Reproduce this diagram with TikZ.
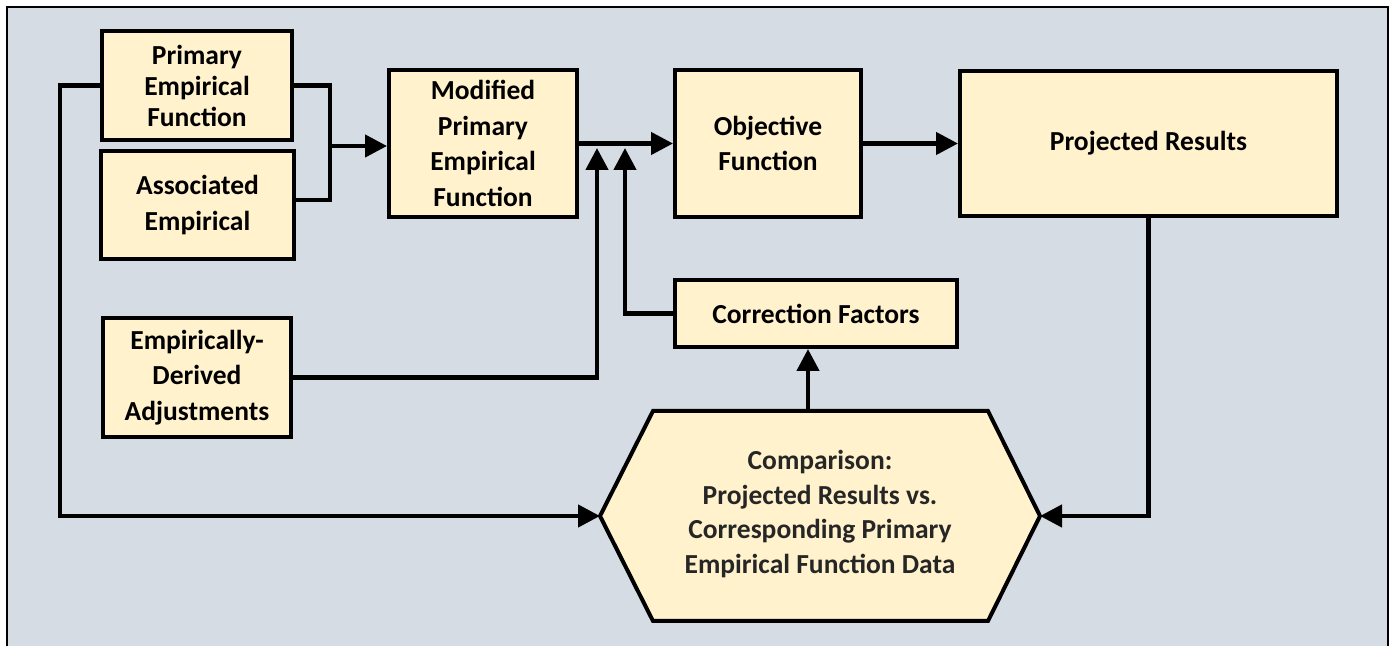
\documentclass[tikz,border=0pt]{standalone}
\usepackage{fontspec}
\setmainfont{Carlito}
\usetikzlibrary{arrows.meta}
\definecolor{boxfill}{HTML}{FFF2CC}
\definecolor{panel}{HTML}{D6DCE4}
\definecolor{hextext}{HTML}{262626}

\begin{document}
\begin{tikzpicture}[x=0.5pt,y=-0.5pt,
    blk/.style={draw,line width=2pt,fill=boxfill,align=center,inner sep=0pt,
      font=\bfseries\fontsize{13.75}{17.75}\selectfont},
    link/.style={line width=2.2pt},
    arr/.style={link,-{Triangle[length=11pt,width=11pt]}}]
    \useasboundingbox (0,0) rectangle (1394,646);
    \draw[fill=panel,line width=1.2pt] (7,7) rectangle (1388,660);

    % input boxes, left column
    \node[blk,minimum width=95pt,minimum height=54.5pt,
      font=\bfseries\fontsize{13.75}{15.5}\selectfont] (pef) at (197,85.5) {Primary\\Empirical\\Function};
    \node[blk,minimum width=96.5pt,minimum height=54pt] (aem) at (197.5,205) {Associated\\Empirical};
    \node[blk,minimum width=94pt,minimum height=59.5pt] (eda) at (197,377.5) {Empirically-\\Derived\\Adjustments};

    % main chain
    \node[blk,minimum width=94pt,minimum height=73.5pt] (mpef) at (483,143.5) {Modified\\Primary\\Empirical\\Function};
    \node[blk,minimum width=93pt,minimum height=73.5pt] (obj) at (768,143.5) {Objective\\Function};
    \node[blk,minimum width=188.5pt,minimum height=72.5pt] (proj) at (1148.5,143.5) {Projected Results};
    \node[blk,minimum width=141pt,minimum height=33.5pt] (corr) at (816,313.5) {Correction Factors};

    % comparison hexagon
    \draw[line width=2pt,fill=boxfill] (600,516) -- (653,411) -- (988,411) -- (1040,516)
      -- (988,621) -- (653,621) -- cycle;
    \node[align=center,text=hextext,font=\bfseries\fontsize{13.75}{17.25}\selectfont] (cmp) at (820,514)
      {Comparison:\\Projected Results vs.\\Corresponding Primary\\Empirical Function Data};
    \coordinate (cmpW) at (600,516);
    \coordinate (cmpE) at (1040,516);
    \coordinate (cmpN) at (808,411);

    % connectors
    \coordinate (jn) at (330,146);
    \coordinate (tapA) at (597,148);
    \coordinate (tapB) at (625,148);
    \draw[link] (pef.east) -| (jn) |- ([yshift=2.5pt]aem.east);
    \draw[arr] (jn) -- (jn -| mpef.west);
    \draw[arr] (mpef.east) -- (obj.west);
    \draw[arr] (obj.east) -- (proj.west);
    \draw[arr] (eda.east) -| (tapA);
    \draw[arr] (corr.west) -| (tapB);
    \draw[arr] (cmpN) -- (cmpN |- corr.south);
    \draw[arr] (pef.west) -- ++(-40,0) |- (cmpW);
    \draw[arr] (proj.south) |- (cmpE);
\end{tikzpicture}
\end{document}
